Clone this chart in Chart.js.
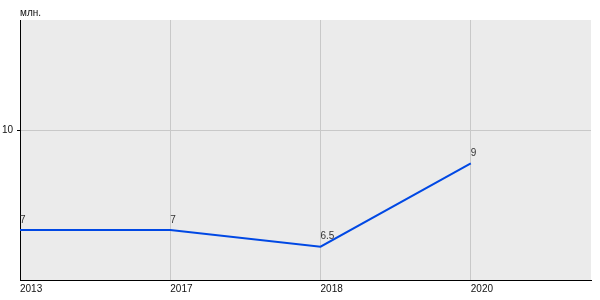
<!DOCTYPE html>
<html>
<head>
<meta charset="utf-8">
<script src="https://cdn.jsdelivr.net/npm/chart.js@4/dist/chart.umd.min.js"></script>
<style>
  html, body { margin: 0; padding: 0; background: #fff; }
  #wrap { width: 600px; height: 300px; }
</style>
</head>
<body>
<div id="wrap"><canvas id="grafico" width="600" height="300"></canvas></div>
<script>
// Datos del gráfico
const years = ['2013', '2017', '2018', '2020'];
const values = [7, 7, 6.5, 9];
const valueLabels = ['7', '7', '6.5', '9'];
const yTicks = [10];
const unitLabel = 'млн.';

const font = { family: 'Liberation Sans, Arial, sans-serif', size: 10 };

// Fondo gris del área de trazado
const plotBg = {
  id: 'plotBg',
  beforeDraw(chart) {
    const a = chart.chartArea, c = chart.ctx;
    c.save();
    c.fillStyle = '#ebebeb';
    c.fillRect(a.left, a.top, a.right - a.left, a.bottom - a.top);
    c.restore();
  }
};

// Etiquetas de valores y unidad
const labelsPlugin = {
  id: 'labelsPlugin',
  afterDatasetsDraw(chart) {
    const c = chart.ctx;
    const meta = chart.getDatasetMeta(0);
    c.save();
    c.font = '10px ' + font.family;
    c.fillStyle = '#333';
    c.textAlign = 'left';
    c.textBaseline = 'middle';
    meta.data.forEach((pt, i) => {
      c.fillText(valueLabels[i], pt.x, pt.y - 10);
    });
    c.fillStyle = '#111';
    c.fillText(unitLabel, chart.chartArea.left, 13);
    c.restore();
  }
};

const ctx = document.getElementById('grafico').getContext('2d');
const myChart = new Chart(ctx, {
  type: 'line',
  data: {
    datasets: [{
      data: values.map((v, i) => ({ x: i, y: v })),
      borderColor: '#0048e4',
      borderWidth: 2,
      pointRadius: 0,
      tension: 0
    }]
  },
  options: {
    responsive: false,
    animation: false,
    devicePixelRatio: 1,
    layout: { padding: { top: 20, right: 9, left: 0, bottom: 0 } },
    plugins: { legend: { display: false }, tooltip: { enabled: false } },
    scales: {
      x: {
        type: 'linear',
        min: 0,
        max: 3.8,
        afterBuildTicks(scale) {
          scale.ticks = years.map((y, i) => ({ value: i }));
        },
        afterFit(scale) { scale.height = 20; },
        ticks: {
          align: 'start',
          padding: 3,
          color: '#111',
          font: font,
          callback: (v) => years[v]
        },
        grid: {
          drawTicks: false,
          color: (c) => (c.tick && c.tick.value === 0 ? 'rgba(0,0,0,0)' : '#c8c8c8')
        },
        border: { color: '#000', width: 1 }
      },
      y: {
        min: 5.5,
        max: 13.3,
        afterBuildTicks(scale) {
          scale.ticks = yTicks.map(v => ({ value: v }));
        },
        afterFit(scale) { scale.width = 20; },
        ticks: {
          padding: 4,
          color: '#111',
          font: font
        },
        grid: {
          color: '#c8c8c8',
          tickColor: '#000',
          tickLength: 3
        },
        border: { color: '#000', width: 1 }
      }
    }
  },
  plugins: [plotBg, labelsPlugin]
});
</script>
</body>
</html>
